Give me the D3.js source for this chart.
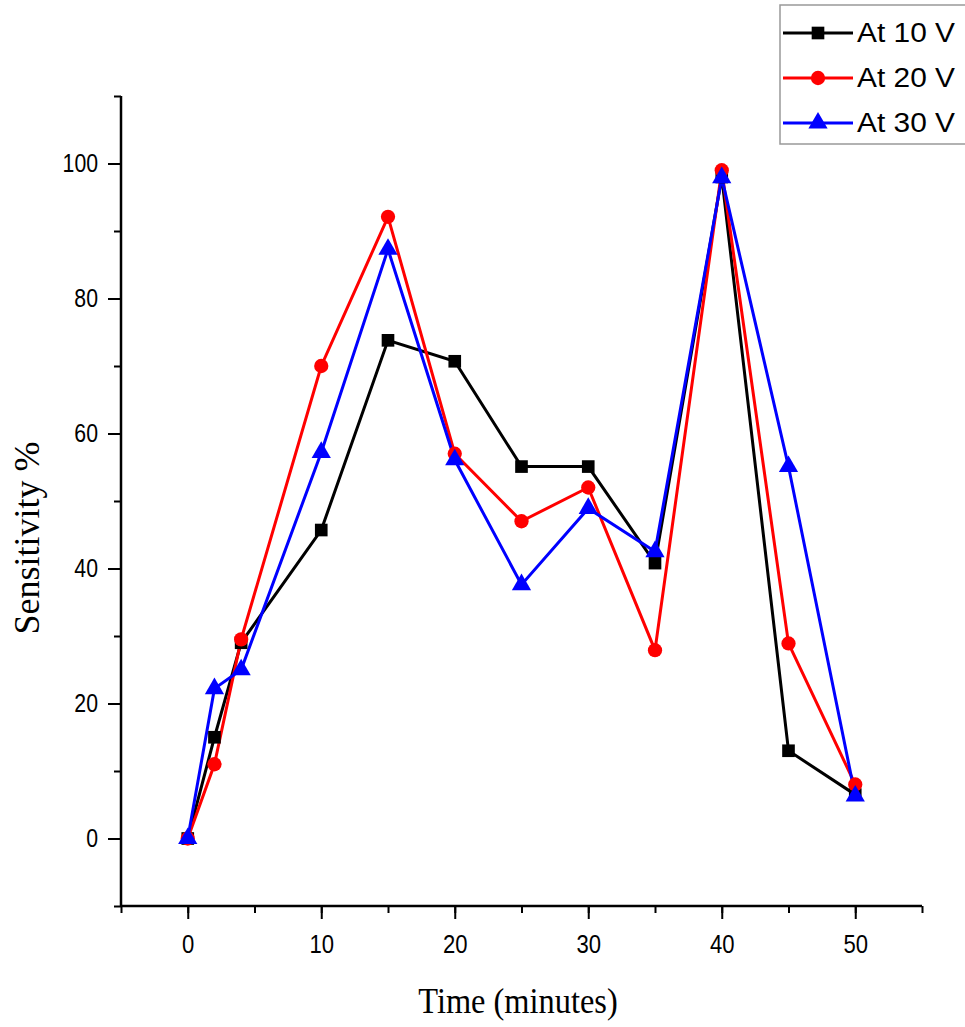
<!DOCTYPE html>
<html>
<head>
<meta charset="utf-8">
<script src="https://cdn.jsdelivr.net/npm/d3@7"></script>
<style>
  body { margin: 0; background: #fff; }
  svg { display: block; }
</style>
</head>
<body>
<svg id="chart" width="965" height="1027"></svg>
<script>
// time points (minutes)
var times = [0, 2, 4, 10, 15, 20, 25, 30, 35, 40, 45, 50];

// sensitivity % for each applied voltage
var at10V = [0, 15, 29, 45.7, 73.8, 70.7, 55.1, 55.1, 40.8, 98, 13, 6.5];
var at20V = [0, 11, 29.5, 70, 92.1, 57, 47, 52, 27.9, 99, 28.9, 8];
var at30V = [0, 22.2, 25, 57.2, 87.3, 56.1, 37.6, 48.9, 42.5, 97.9, 55.1, 6.3];

var seriesNames = ["At 10 V", "At 20 V", "At 30 V"];
var seriesColors = ["#000000", "#ff0000", "#0000ff"];
var seriesSymbols = [d3.symbolSquare, d3.symbolCircle, d3.symbolTriangle];

var xTicksMajor = [0, 10, 20, 30, 40, 50];
var yTicksMajor = [0, 20, 40, 60, 80, 100];

var svg = d3.select("#chart");

var x = d3.scaleLinear().domain([-5, 55]).range([121, 922]);
var y = d3.scaleLinear().domain([-10, 110]).range([906, 96]);

var sans = "'Liberation Sans', Arial, sans-serif";
var serif = "'Liberation Serif', 'Times New Roman', serif";
var squeeze = 0.85;

// minor ticks
svg.append("g")
  .attr("transform", "translate(0,906)")
  .call(d3.axisBottom(x).tickValues(d3.range(-5, 56, 5)).tickSize(7).tickFormat(""))
  .call(function(g) { g.select(".domain").remove(); })
  .selectAll("line").attr("stroke", "#000").attr("stroke-width", 2);

svg.append("g")
  .attr("transform", "translate(121,0)")
  .call(d3.axisLeft(y).tickValues(d3.range(-10, 111, 10)).tickSize(7).tickFormat(""))
  .call(function(g) { g.select(".domain").remove(); })
  .selectAll("line").attr("stroke", "#000").attr("stroke-width", 2);

// major ticks + labels
var xAxis = svg.append("g")
  .attr("transform", "translate(0,906)")
  .call(d3.axisBottom(x).tickValues(xTicksMajor).tickSize(13).tickPadding(16).tickSizeOuter(0));
xAxis.select(".domain").attr("stroke", "#000").attr("stroke-width", 2.5)
  .attr("d", "M" + x(-5) + ",0H" + x(55));
xAxis.selectAll("line").attr("stroke", "#000").attr("stroke-width", 2);
xAxis.selectAll("text")
  .attr("font-family", sans)
  .attr("font-size", 26).attr("fill", "#000")
  .attr("transform", "scale(" + squeeze + ",1)");

var yAxis = svg.append("g")
  .attr("transform", "translate(121,0)")
  .call(d3.axisLeft(y).tickValues(yTicksMajor).tickSize(13).tickPadding(10).tickSizeOuter(0));
yAxis.select(".domain").attr("stroke", "#000").attr("stroke-width", 2.5)
  .attr("d", "M0," + y(-10) + "V" + y(110));
yAxis.selectAll("line").attr("stroke", "#000").attr("stroke-width", 2);
yAxis.selectAll("text")
  .attr("font-family", sans)
  .attr("font-size", 25).attr("fill", "#000")
  .attr("x", -23 / squeeze)
  .attr("transform", "scale(" + squeeze + ",1)");

// axis titles
svg.append("text")
  .attr("transform", "translate(518,1013) scale(0.9,1)")
  .attr("text-anchor", "middle")
  .attr("font-family", serif)
  .attr("font-size", 36)
  .text("Time (minutes)");

svg.append("text")
  .attr("transform", "translate(39,538) rotate(-90)")
  .attr("text-anchor", "middle")
  .attr("font-family", serif)
  .attr("font-size", 36)
  .text("Sensitivity %");

// series
var allSeries = [at10V, at20V, at30V];
var line = d3.line()
  .x(function(d, i) { return x(times[i]); })
  .y(function(d) { return y(d); });

allSeries.forEach(function(vals, s) {
  svg.append("path")
    .datum(vals)
    .attr("fill", "none")
    .attr("stroke", seriesColors[s])
    .attr("stroke-width", 3)
    .attr("d", line);
});

allSeries.forEach(function(vals, s) {
  var sym = d3.symbol().type(seriesSymbols[s]).size(160);
  svg.append("g").selectAll("path")
    .data(vals)
    .enter().append("path")
    .attr("transform", function(d, i) { return "translate(" + x(times[i]) + "," + y(d) + ")"; })
    .attr("fill", seriesColors[s])
    .attr("d", sym());
});

// legend
var legend = svg.append("g");
legend.append("rect")
  .attr("x", 780).attr("y", 5).attr("width", 190).attr("height", 139)
  .attr("fill", "#fff").attr("stroke", "#999").attr("stroke-width", 1.5);

seriesNames.forEach(function(name, s) {
  var ly = 33 + s * 45;
  legend.append("line")
    .attr("x1", 783).attr("x2", 853).attr("y1", ly).attr("y2", ly)
    .attr("stroke", seriesColors[s]).attr("stroke-width", 3);
  legend.append("path")
    .attr("transform", "translate(818," + ly + ")")
    .attr("fill", seriesColors[s])
    .attr("d", d3.symbol().type(seriesSymbols[s]).size(160)());
  legend.append("text")
    .attr("x", 857).attr("y", ly + 9)
    .attr("font-family", sans)
    .attr("font-size", 27)
    .attr("textLength", 98)
    .attr("lengthAdjust", "spacingAndGlyphs")
    .text(name);
});
</script>
</body>
</html>
